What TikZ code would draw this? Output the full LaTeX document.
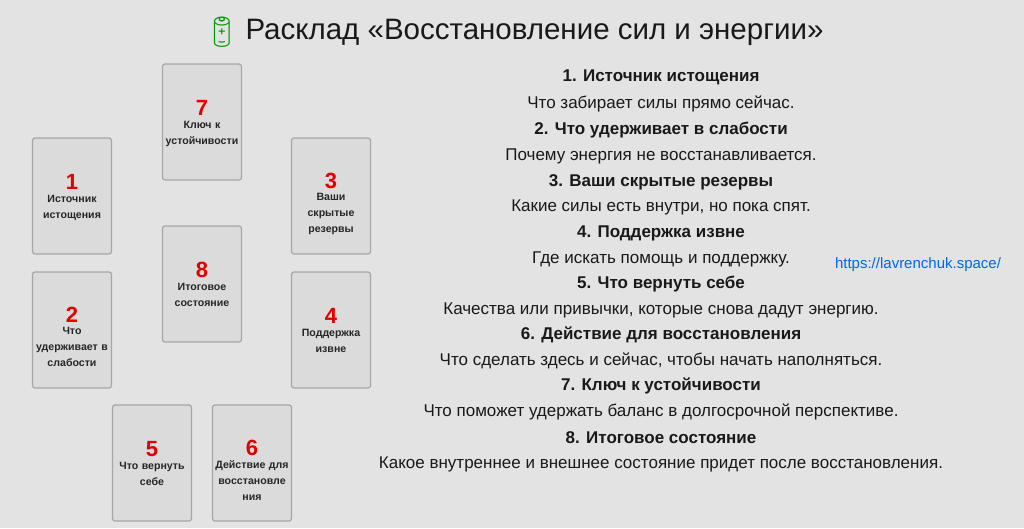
\documentclass[tikz,border=0pt]{standalone}
\usepackage{fontspec}
\setmainfont{Liberation Sans}
\newfontfamily\emo{Noto Emoji}
\begin{document}
\begin{tikzpicture}[x=1pt,y=-1pt,
  card/.style={draw=black!35,line width=1.2pt,fill=black!14,rounded corners=2.5pt,minimum width=79pt,minimum height=116pt,inner sep=0pt},
  lbl/.style={align=center,font=\fontsize{10.6}{16}\selectfont\bfseries,text=black!85,text width=78pt,inner sep=0pt},
  num/.style={font=\fontsize{22}{22}\selectfont\bfseries,text=red!90!black,inner sep=0pt},
  hd/.style={font=\fontsize{17}{17}\selectfont\bfseries,text=black!90},
  tx/.style={font=\fontsize{17}{17}\selectfont,text=black!90}]
\fill[black!11] (0,0) rectangle (1024,528);
\useasboundingbox (0,0) rectangle (1024,528);
\node[font=\fontsize{30}{30}\selectfont\emo,text=green!60!black] (icon) at (222,32) {🔋};
\node[font=\fontsize{29.5}{30}\selectfont,text=black!90,anchor=west] (title) at (242,32) {Расклад «Восстановление сил и энергии»};
\foreach \n/\x/\y/\t/\dy in {7/202/122/Ключ к\\устойчивости/0,1/72/196/Источник\\истощения/0,3/331/196/Ваши\\скрытые\\резервы/1,8/202/284/Итоговое\\состояние/0,2/72/330/Что\\удерживает в\\слабости/1,4/331/330/Поддержка\\извне/0,5/152/463/Что вернуть\\себе/0,6/252/463/Действие для\\восстановле\\ния/1}{
  \node[card] (c\n) at (\x,\y) {};
  \node[num,anchor=south] (n\n) at ([yshift=6+\dy]c\n.center) {\n};
  \node[lbl,anchor=north] (l\n) at ([yshift=1+2*\dy]c\n.center) {\t};
}
\foreach \i/\y/\s/\t in {
 h1/77/hd/1. Источник истощения,
 t1/104/tx/Что забирает силы прямо сейчас.,
 h2/130/hd/2. Что удерживает в слабости,
 t2/156/tx/Почему энергия не восстанавливается.,
 h3/182/hd/3. Ваши скрытые резервы,
 t3/207/tx/Какие силы есть внутри{,} но пока спят.,
 h4/233/hd/4. Поддержка извне,
 t4/259/tx/Где искать помощь и поддержку.,
 h5/284/hd/5. Что вернуть себе,
 t5/310/tx/Качества или привычки{,} которые снова дадут энергию.,
 h6/335/hd/6. Действие для восстановления,
 t6/361/tx/Что сделать здесь и сейчас{,} чтобы начать наполняться.,
 h7/386/hd/7. Ключ к устойчивости,
 t7/412/tx/Что поможет удержать баланс в долгосрочной перспективе.,
 h8/438/hd/8. Итоговое состояние,
 t8/464/tx/Какое внутреннее и внешнее состояние придет после восстановления.}{
  \node[\s] (\i) at (661,\y) {\t};
}
\node[font=\fontsize{15}{15}\selectfont,text=blue!55!cyan!90!black] (link) at (918,265) {https://lavrenchuk.space/};
\end{tikzpicture}
\end{document}
